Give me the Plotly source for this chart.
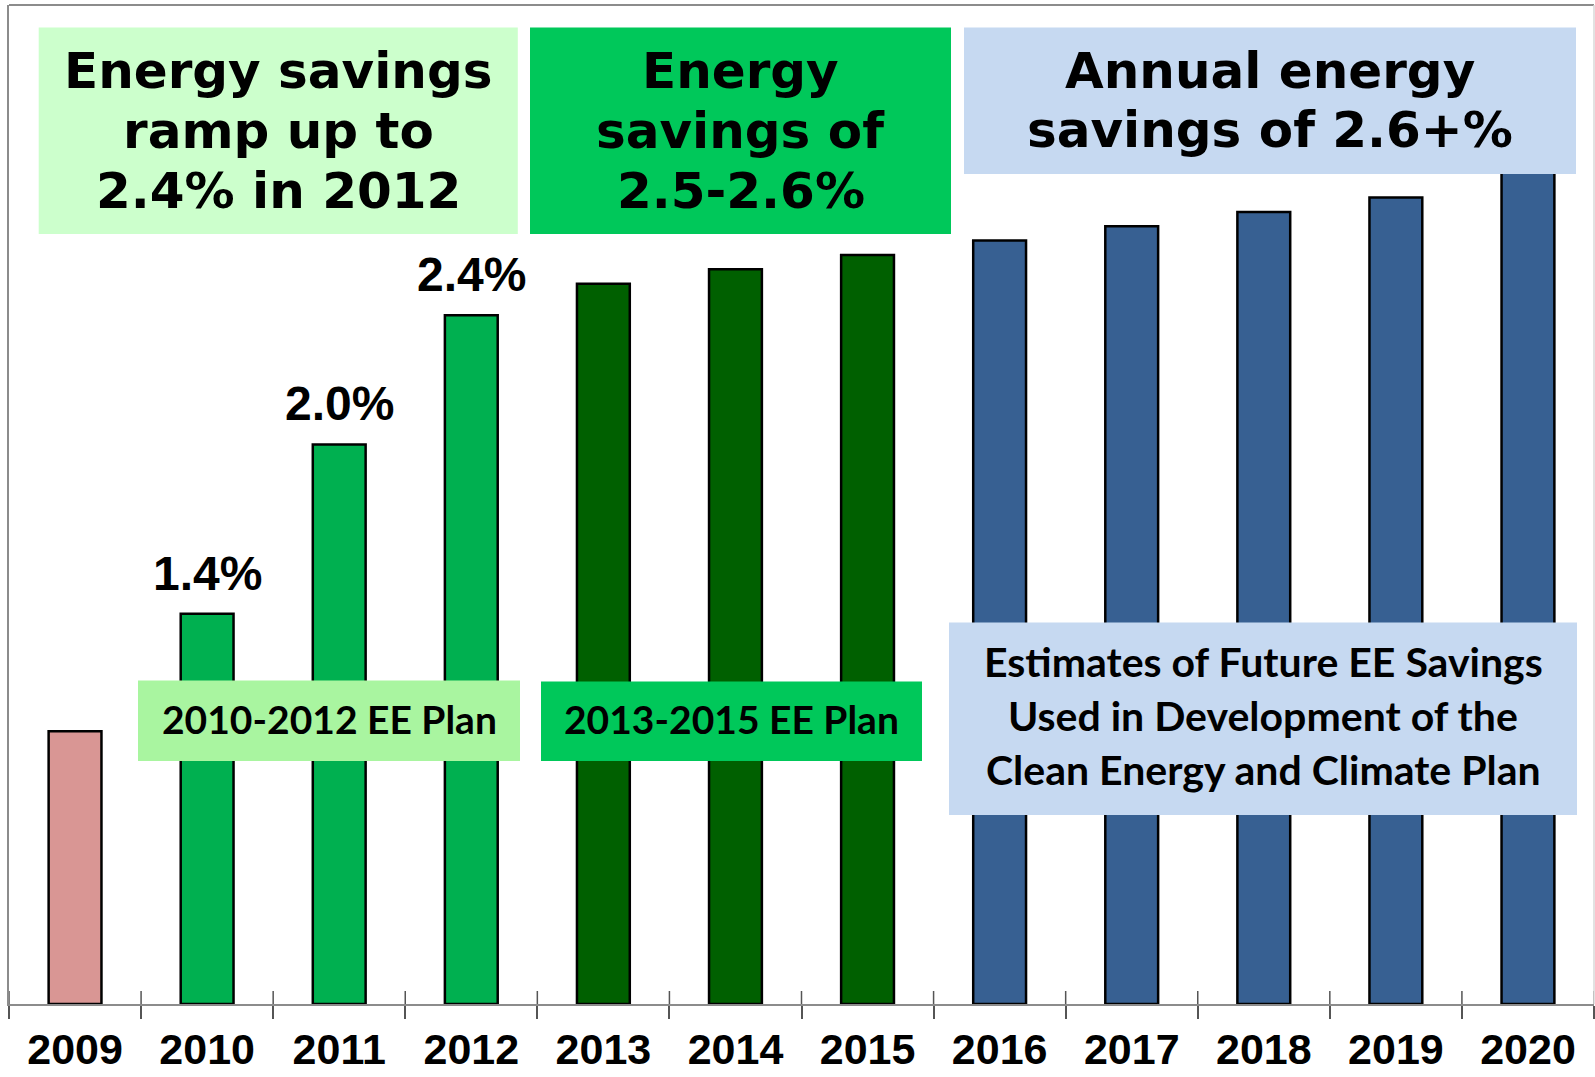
import plotly.graph_objects as go

# ---- data ----
years = ["2009", "2010", "2011", "2012", "2013", "2014", "2015",
         "2016", "2017", "2018", "2019", "2020"]
savings = [0.95, 1.36, 1.95, 2.40, 2.51, 2.56, 2.61, 2.66, 2.71, 2.76, 2.81, 2.92]
value_labels = ["", "1.4%", "2.0%", "2.4%", "", "", "", "", "", "", "", ""]
bar_colors = ["#D99694"] + ["#00B050"] * 3 + ["#006000"] * 3 + ["#376092"] * 5

W, H = 1595, 1077
ML, MR, MT, MB = 9, 1, 5, 73
PW, PH = W - ML - MR, H - MT - MB
Y_MAX = 3.481


def px_x(x):
    return (x - ML) / PW


def px_y(y):
    return 1 - (y - MT) / PH


fig = go.Figure()
fig.add_trace(go.Bar(
    x=years, y=savings, width=0.40,
    marker=dict(color=bar_colors, line=dict(color="#000000", width=2.5)),
    hoverinfo="skip", showlegend=False,
))

fig.update_layout(
    width=W, height=H,
    margin=dict(l=ML, r=MR, t=MT, b=MB, autoexpand=False),
    paper_bgcolor="white", plot_bgcolor="white",
    xaxis=dict(
        type="category", categoryorder="array", categoryarray=years,
        range=[-0.5, 11.5], tickson="boundaries", ticks="outside",
        ticklen=13, tickwidth=1.5, tickcolor="#555555", automargin=False,
        showline=True, linecolor="#8c8c8c", linewidth=2,
        showgrid=False, zeroline=False, ticklabelstandoff=6,
        tickfont=dict(family="Liberation Sans", size=43, color="black", weight="bold"),
    ),
    yaxis=dict(
        range=[0, Y_MAX], showticklabels=False, ticks="", showgrid=False,
        zeroline=False, showline=True, linecolor="#8c8c8c", linewidth=2,
        automargin=False,
    ),
    bargap=0.6,
)

# inner half of the crossing tick marks at category boundaries
for i in range(len(years) + 1):
    fig.add_shape(type="line", xref="x", yref="paper", ysizemode="pixel",
                  yanchor=0, x0=i - 0.5, x1=i - 0.5, y0=0, y1=13,
                  line=dict(color="#555555", width=1.5))

# frame top and right edges
fig.add_shape(type="line", xref="paper", yref="paper", x0=0, x1=1, y0=1, y1=1,
              line=dict(color="#8c8c8c", width=2))
fig.add_shape(type="line", xref="paper", yref="paper", x0=1, x1=1, y0=0, y1=1,
              line=dict(color="#d9d9d9", width=1.5))

# value labels above the 2010-2012 bars
for i, (v, lab) in enumerate(zip(savings, value_labels)):
    if lab:
        fig.add_annotation(x=i, y=v, text=lab, showarrow=False,
                           xanchor="center", yanchor="bottom", yshift=12,
                           font=dict(family="Liberation Sans", size=48,
                                     color="black", weight="bold"))


def box(left, top, right, bottom, lines, color, family, size, spacing, yshift=0):
    fig.add_shape(type="rect", xref="paper", yref="paper", layer="above",
                  x0=px_x(left), x1=px_x(right), y0=px_y(bottom), y1=px_y(top),
                  fillcolor=color, line=dict(width=0))
    n = len(lines)
    for k, line in enumerate(lines):
        fig.add_annotation(
            xref="paper", yref="paper", x=px_x((left + right) / 2),
            y=px_y((top + bottom) / 2), xanchor="center", yanchor="middle",
            text=line, showarrow=False, align="center",
            yshift=yshift - (k - (n - 1) / 2) * spacing,
            font=dict(family=family, size=size, color="black", weight="bold"),
        )


verd = "DejaVu Sans"
cal = "Lato"
box(38.7, 27.5, 517.8, 234, ["Energy savings", "ramp up to", "2.4% in 2012"],
    "#CCFFCC", verd, 50, 60)
box(530, 27.5, 951, 234, ["Energy", "savings of", "2.5-2.6%"],
    "#00C85A", verd, 50, 60)
box(964, 27.5, 1576, 174, ["Annual energy", "savings of 2.6+%"],
    "#C6D9F1", verd, 50, 59)
box(138, 680.5, 520, 761, ["2010-2012 EE Plan"], "#A9F5A0", cal, 39, 0, 2)
box(541, 681.5, 922, 761, ["2013-2015 EE Plan"], "#00C85A", cal, 39, 0, 2)
box(949, 622.5, 1577, 815,
    ["Estimates of Future EE Savings", "Used in Development of the",
     "Clean Energy and Climate Plan"],
    "#C6D9F1", cal, 41, 54, 3)

fig.write_html("out.html", config={"displayModeBar": False},
               post_script="document.body.style.margin='0';")
